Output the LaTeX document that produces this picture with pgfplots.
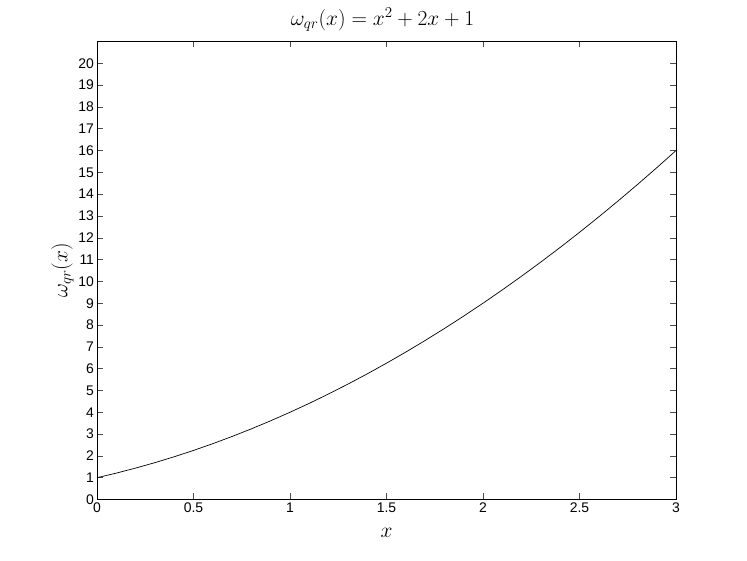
\documentclass[border=0pt]{standalone}
\usepackage{fix-cm}
\usepackage[no-math]{fontspec}
\setmainfont{Liberation Sans}
\usepackage{pgfplots}
\pgfplotsset{compat=1.18}
\begin{document}
\begin{tikzpicture}
\path[use as bounding box] (0,0) rectangle (747bp,561bp);
\begin{axis}[
  at={(97bp,61.5bp)}, anchor=south west,
  width=579bp, height=458bp, scale only axis,
  xmin=0, xmax=3, ymin=0, ymax=21,
  xtick={0,0.5,...,3}, ytick={0,1,...,20},
  xticklabels={0,0.5,1,1.5,2,2.5,3},
  tick align=inside, major tick length=6bp,
  tick style={line width=0.5pt, color=black!70},
  axis line style={line width=0.6pt},
  /pgf/number format/assume math mode=true,
  tick label style={font=\fontsize{14}{16}\selectfont},
  xticklabel style={yshift=0bp},
  yticklabel style={xshift=0.5bp},
  title={\fontsize{21.5}{25}\selectfont$\omega_{qr}(x) = x^2+2x+1$},
  title style={at={(axis description cs:0.5,1)}, anchor=base, yshift=10bp, xshift=-4bp},
  xlabel={\fontsize{21.5}{25}\selectfont$x$},
  ylabel={\fontsize{21.5}{25}\selectfont$\omega_{qr}(x)$},
  xlabel style={at={(axis description cs:0.5,0)}, anchor=base, yshift=-38bp},
  ylabel style={at={(axis description cs:-0.0596,0.5)}, anchor=center},
]
\addplot[black, line width=0.7pt] coordinates {
(0,1) (0.1,1.21) (0.2,1.44) (0.3,1.69) (0.4,1.96) (0.5,2.25) (0.6,2.56) (0.7,2.89) (0.8,3.24) (0.9,3.61)
(1,4) (1.1,4.41) (1.2,4.84) (1.3,5.29) (1.4,5.76) (1.5,6.25) (1.6,6.76) (1.7,7.29) (1.8,7.84) (1.9,8.41)
(2,9) (2.1,9.61) (2.2,10.24) (2.3,10.89) (2.4,11.56) (2.5,12.25) (2.6,12.96) (2.7,13.69) (2.8,14.44) (2.9,15.21) (3,16)
};
\end{axis}
\end{tikzpicture}
\end{document}
